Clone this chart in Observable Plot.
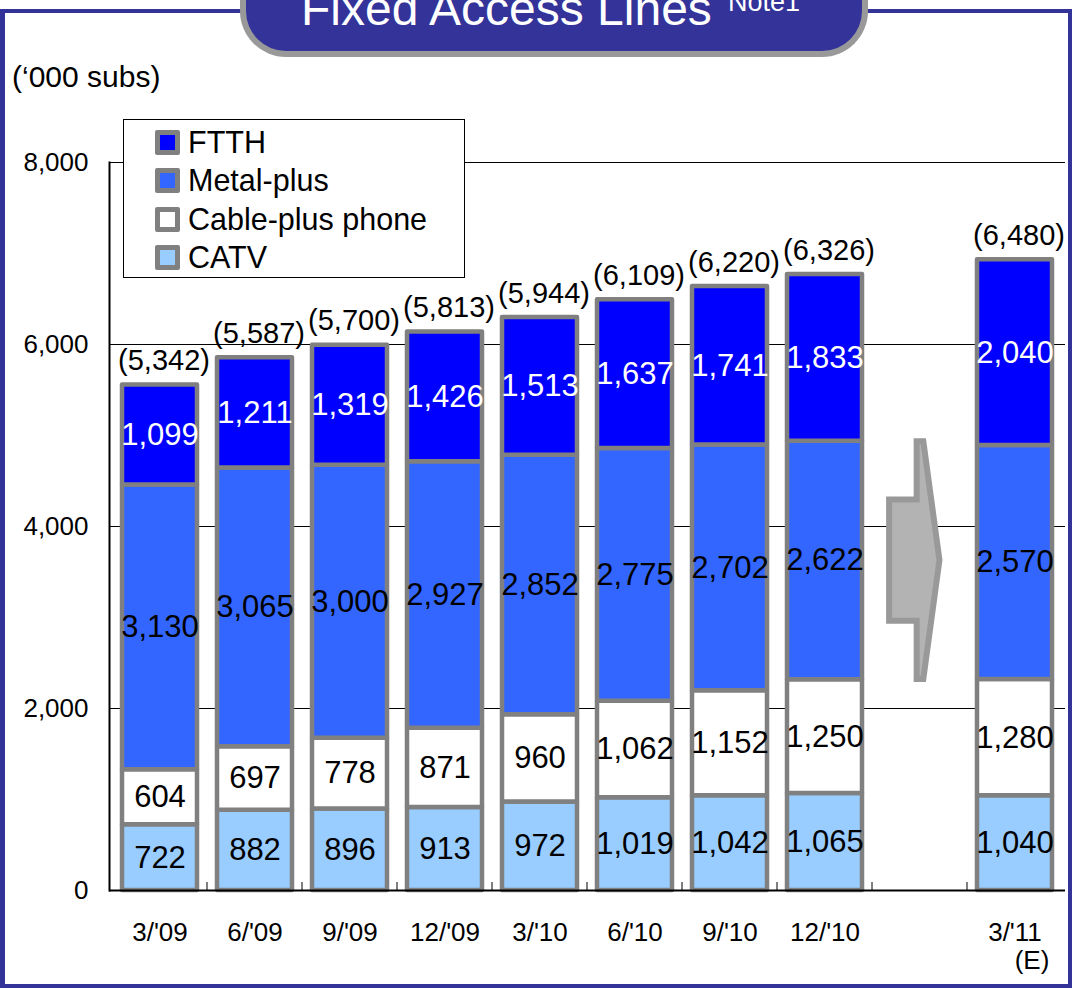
<!DOCTYPE html>
<html>
<head>
<meta charset="utf-8">
<script src="https://cdn.jsdelivr.net/npm/d3@7"></script>
<script src="https://cdn.jsdelivr.net/npm/@observablehq/plot@0.6"></script>
<style>
  html, body { margin: 0; padding: 0; background: #fff; }
  body { font-family: "Liberation Sans", Arial, sans-serif; }
  #page { position: relative; width: 1073px; height: 988px; overflow: hidden; background: #fff; }
  #frame { position: absolute; left: 0; top: 9px; width: 1072px; height: 979px; box-sizing: border-box;
           border: 4px solid #333399; border-left-width: 5px; }
  #chart { position: absolute; left: 0; top: 0; }
  #banner { position: absolute; left: 240px; top: -70px; width: 628px; height: 127px; box-sizing: border-box;
            background: #333399; border: 6px solid #999999; border-top: none; border-radius: 0 0 46px 46px; }
  #title { position: absolute; left: 301px; top: -15px; font-size: 48px; line-height: 48px; color: #fff; white-space: nowrap; }
  #note { position: absolute; left: 728px; top: -11px; font-size: 27px; line-height: 27px; color: #fff; white-space: nowrap; }
  #unit { position: absolute; left: 12px; top: 62px; font-size: 30px; line-height: 30px; color: #000; white-space: nowrap; }
  #legend { position: absolute; left: 123px; top: 119px; width: 342px; height: 159px; box-sizing: border-box;
            border: 1px solid #000; background: #fff; }
  .row { position: absolute; left: 31px; height: 30px; display: flex; align-items: center; }
  .sw { width: 25px; height: 25px; box-sizing: border-box; border: 5px solid #808080; border-radius: 2px; margin-right: 8px; }
  .lab { font-size: 30.5px; line-height: 30px; color: #000; white-space: nowrap; }
</style>
</head>
<body>
<div id="page">
  <div id="frame"></div>
  <div id="chart"></div>
  <div id="legend"></div>
  <div id="banner"></div>
  <div id="title">Fixed Access Lines</div>
  <div id="note">Note1</div>
  <div id="unit">(‘000 subs)</div>
</div>
<script>
// ---- data ----
const periods = ["3/'09", "6/'09", "9/'09", "12/'09", "3/'10", "6/'10", "9/'10", "12/'10", "3/'11"];
const gapSlot = " "; // empty slot holding the arrow
const slots = [...periods.slice(0, 8), gapSlot, periods[8]];

const catv      = [722, 882, 896, 913, 972, 1019, 1042, 1065, 1040];
const cablePlus = [604, 697, 778, 871, 960, 1062, 1152, 1250, 1280];
const metalPlus = [3130, 3065, 3000, 2927, 2852, 2775, 2702, 2622, 2570];
const ftth      = [1099, 1211, 1319, 1426, 1513, 1637, 1741, 1833, 2040];
const totals    = [5342, 5587, 5700, 5813, 5944, 6109, 6220, 6326, 6480];

const seriesNames  = ["CATV", "Cable-plus phone", "Metal-plus", "FTTH"]; // bottom to top
const seriesColors = ["#99ccff", "#ffffff", "#3366ff", "#0000ff"];
const legendOrder  = ["FTTH", "Metal-plus", "Cable-plus phone", "CATV"];
const yTicks = [0, 2000, 4000, 6000, 8000];
const estimateNote = "(E)";

// arrow outline: [fraction of slot width, y value]
const arrowShape = [[0.18, 4290], [0.47, 4290], [0.47, 4930], [0.54, 4930], [0.71, 3626],
                    [0.54, 2320], [0.47, 2320], [0.47, 2960], [0.18, 2960]];

// ---- build rows ----
const seriesValues = {"CATV": catv, "Cable-plus phone": cablePlus, "Metal-plus": metalPlus, "FTTH": ftth};
const rows = [];
periods.forEach((p, i) => seriesNames.forEach(s => rows.push({period: p, series: s, value: seriesValues[s][i]})));
const totalRows = periods.map((p, i) => ({period: p, total: totals[i],
  top: seriesNames.reduce((a, s) => a + seriesValues[s][i], 0)}));

const fmt = d3.format(",");
const FONT = '"Liberation Sans", Arial, sans-serif';

// boundary tick marks along the x axis
function boundaryTicks(index, scales) {
  const sx = scales.x, sy = scales.y;
  const step = sx.step(), bw = sx.bandwidth();
  const g = d3.create("svg:g");
  slots.slice(1).forEach(c => {
    const bx = sx(c) - (step - bw) / 2;
    g.append("line").attr("x1", bx).attr("x2", bx).attr("y1", sy(0)).attr("y2", sy(0) - 8)
      .attr("stroke", "#000").attr("stroke-width", 1);
  });
  return g.node();
}

function arrowMark(index, scales) {
  const sx = scales.x, sy = scales.y;
  const x0 = sx(gapSlot) - (sx.step() - sx.bandwidth()) / 2, st = sx.step();
  const pts = arrowShape.map(([fx, yv]) => [x0 + fx * st, sy(yv)]);
  const g = d3.create("svg:g");
  g.append("path").attr("d", "M" + pts.map(p => p.join(",")).join("L") + "Z")
    .attr("fill", "#b3b3b3").attr("stroke", "#999999").attr("stroke-width", 6).attr("stroke-linejoin", "miter");
  return g.node();
}

const chart = Plot.plot({
  width: 1073,
  height: 988,
  marginTop: 162,
  marginBottom: 98,
  marginLeft: 109,
  marginRight: 8,
  style: {fontFamily: FONT, background: "transparent", color: "#000", overflow: "visible"},
  x: {domain: slots, paddingInner: 0.21, paddingOuter: 0.105, axis: null},
  y: {domain: [0, 8000], axis: null},
  color: {domain: seriesNames, range: seriesColors},
  marks: [
    Plot.gridY(yTicks.filter(t => t > 0), {stroke: "#000", strokeOpacity: 1, strokeWidth: 1}),
    Plot.axisY(yTicks, {tickSize: 0, tickPadding: 21, fontSize: 26, tickFormat: fmt, label: null}),
    Plot.axisX({tickSize: 0, tickPadding: 32, fontSize: 26, label: null}),
    boundaryTicks,
    Plot.barY(rows, {x: "period", y: "value", fill: "series", order: seriesNames,
      stroke: "#808080", strokeWidth: 4.5, strokeLinejoin: "round"}),
    arrowMark,
    Plot.frame({anchor: "left", stroke: "#000", strokeWidth: 2}),
    Plot.ruleY([0], {stroke: "#000", strokeWidth: 2}),
    Plot.text(rows, Plot.stackY({x: "period", y: "value", z: "series", order: seriesNames,
      text: d => d.series === "FTTH" ? fmt(d.value) : "", fill: "#fff", fontSize: 31})),
    Plot.text(rows, Plot.stackY({x: "period", y: "value", z: "series", order: seriesNames,
      text: d => d.series !== "FTTH" ? fmt(d.value) : "", fill: "#000", fontSize: 31})),
    Plot.text(totalRows, {x: "period", y: "top", text: d => `(${fmt(d.total)})`, dy: -24, dx: 4, fontSize: 29, fill: "#000"}),
    Plot.text([periods[8]], {x: d => d, y: () => 0, text: () => estimateNote, dy: 70, dx: 17, fontSize: 26, fill: "#000"})
  ]
});
document.getElementById("chart").appendChild(chart);

// legend (HTML overlay)
const legend = document.getElementById("legend");
const rowCenters = [22, 60, 99, 137];
legendOrder.forEach((s, i) => {
  const r = document.createElement("div");
  r.className = "row";
  r.style.top = (rowCenters[i] - 15) + "px";
  const sw = document.createElement("div");
  sw.className = "sw";
  sw.style.background = seriesColors[seriesNames.indexOf(s)];
  const lb = document.createElement("div");
  lb.className = "lab";
  lb.textContent = s;
  r.appendChild(sw); r.appendChild(lb);
  legend.appendChild(r);
});
</script>
</body>
</html>
